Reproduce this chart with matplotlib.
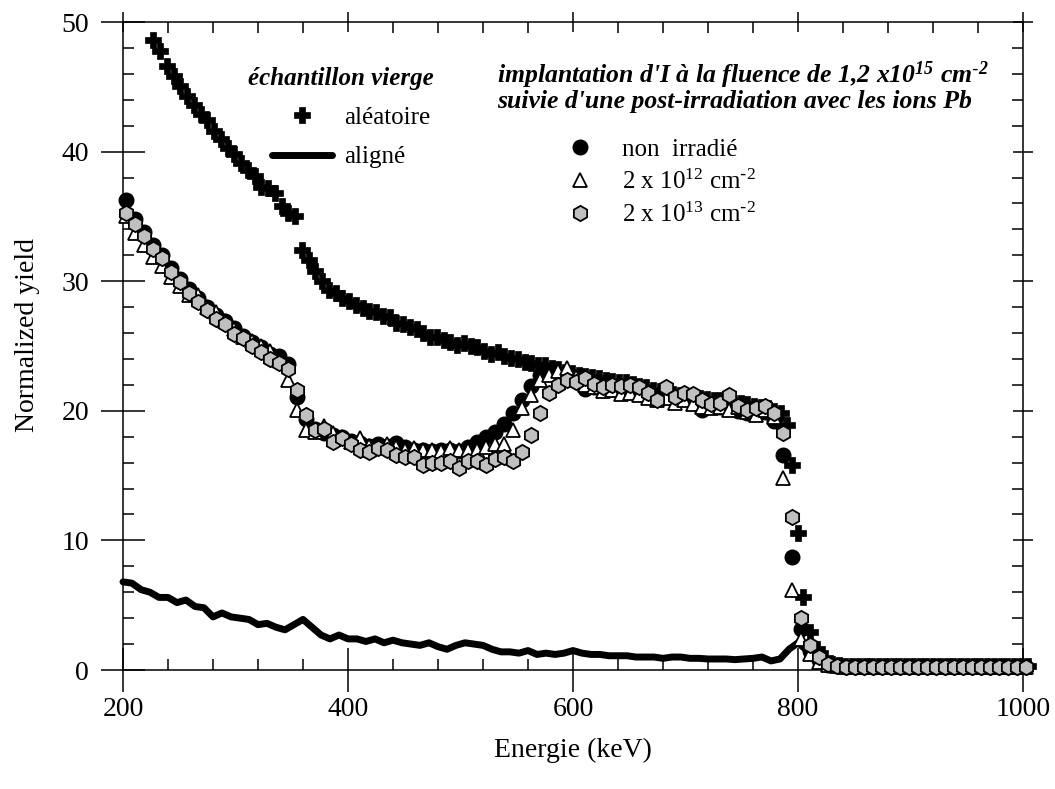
import numpy as np
import matplotlib
matplotlib.use("Agg")
import matplotlib.pyplot as plt
from matplotlib.ticker import MultipleLocator

plt.rcParams['font.family'] = ['Liberation Serif', 'DejaVu Serif']
plt.rcParams['mathtext.default'] = 'regular'

# ---------------- data ----------------
# aligned spectrum, virgin sample (every 8 keV from 200 keV)
aligne_start, aligne_step = 200, 8
aligne_y = [6.8, 6.7, 6.2, 6.0, 5.6, 5.6, 5.2, 5.4, 4.9, 4.8,
            4.1, 4.4, 4.1, 4.0, 3.9, 3.5, 3.6, 3.3, 3.1, 3.5,
            3.9, 3.3, 2.7, 2.4, 2.7, 2.4, 2.4, 2.2, 2.4, 2.1,
            2.3, 2.1, 2.0, 1.9, 2.1, 1.8, 1.6, 1.9, 2.1, 2.0,
            1.9, 1.6, 1.4, 1.4, 1.3, 1.5, 1.2, 1.3, 1.2, 1.3,
            1.5, 1.3, 1.2, 1.2, 1.1, 1.1, 1.1, 1.0, 1.0, 1.0,
            0.9, 1.0, 1.0, 0.9, 0.9, 0.85, 0.85, 0.85, 0.8, 0.85,
            0.9, 1.0, 0.7, 0.85, 1.6, 2.1, 1.5, 0.8, 0.5, 0.3,
            0.2, 0.2, 0.15, 0.2, 0.15, 0.15, 0.2, 0.15, 0.15, 0.15,
            0.2, 0.15, 0.15, 0.15, 0.2, 0.15, 0.15, 0.15, 0.15, 0.15, 0.15]

# random spectrum, virgin sample
aleatoire_E = list(range(227, 790, 6)) + [790, 795, 800, 804, 811, 817, 824] + list(range(830, 1008, 6))
aleatoire_y = [48.6, 47.8, 46.6, 45.8, 45.1, 44.3, 43.6, 42.9, 42.4, 41.6,
               41.0, 40.3, 39.8, 39.1, 38.6, 38.1, 37.3, 37.2, 36.8, 35.8,
               35.3, 35.0, 32.4, 31.6, 30.8, 30.0, 29.3, 29.1, 28.7, 28.5,
               28.2, 27.9, 27.7, 27.6, 27.3, 27.2, 26.8, 26.7, 26.5, 26.3,
               26.0, 25.7, 25.7, 25.5, 25.3, 25.1, 25.2, 25.0, 24.9, 24.6,
               24.4, 24.5, 24.2, 24.1, 24.0, 23.8, 23.7, 23.5, 23.5, 23.3,
               23.2, 23.0, 22.9, 22.8, 22.7, 22.6, 22.5, 22.4, 22.3, 22.2,
               22.2, 22.1, 21.9, 21.8, 21.6, 21.5, 21.4, 21.3, 21.2, 21.1,
               21.0, 21.0, 20.9, 20.8, 20.8, 20.7, 20.6, 20.6, 20.5, 20.4,
               20.3, 20.2, 20.0, 19.8,
               18.9, 15.8, 10.6, 5.6, 2.9, 1.6, 0.9,
               0.5, 0.4, 0.3, 0.3, 0.3, 0.3, 0.3, 0.3, 0.3, 0.3,
               0.3, 0.3, 0.3, 0.3, 0.3, 0.3, 0.3, 0.3, 0.3, 0.3,
               0.3, 0.3, 0.3, 0.3, 0.3, 0.3, 0.3, 0.3, 0.3, 0.3]

# implanted samples (every 8 keV from 203 keV)
impl_start, impl_step = 203, 8
non_irradie = [36.3, 34.8, 33.8, 32.8, 32.0, 31.0, 30.2, 29.4, 28.7, 28.0,
               27.4, 26.9, 26.4, 25.8, 25.3, 24.9, 24.4, 24.2, 23.6, 21.1,
               19.4, 18.6, 18.3, 18.1, 18.0, 17.7, 17.5, 17.3, 17.4, 17.3,
               17.5, 17.2, 17.0, 17.0, 16.9, 17.0, 17.0, 16.9, 17.2, 17.6,
               18.0, 18.4, 19.0, 19.8, 20.8, 21.9, 22.8, 23.0, 22.8, 22.5,
               22.3, 21.7, 21.8, 21.6, 21.7, 21.5, 21.6, 21.4, 21.3, 21.0,
               21.2, 20.9, 21.0, 20.8, 20.1, 20.4, 20.3, 20.5, 20.0, 19.8,
               20.0, 19.9, 19.2, 16.6, 8.7, 3.2, 1.5, 0.8, 0.4, 0.3,
               0.2, 0.2, 0.2, 0.2, 0.2, 0.2, 0.2, 0.2, 0.2, 0.2,
               0.2, 0.2, 0.2, 0.2, 0.2, 0.2, 0.2, 0.2, 0.2, 0.2, 0.2]
irr_2e12 = [35.0, 33.7, 32.8, 31.9, 31.2, 30.3, 29.6, 28.9, 28.9, 28.0,
            27.6, 26.9, 26.3, 25.7, 25.4, 25.0, 24.6, 23.9, 22.4, 20.1,
            18.5, 18.4, 18.8, 18.3, 18.0, 17.6, 17.9, 17.3, 17.2, 17.4,
            17.2, 17.0, 17.1, 17.0, 17.0, 16.9, 17.1, 17.0, 17.0, 17.0,
            17.2, 17.4, 17.4, 18.5, 20.2, 21.2, 22.4, 22.8, 23.1, 23.3,
            22.6, 22.0, 21.8, 21.5, 21.6, 21.3, 21.4, 21.2, 21.0, 20.8,
            21.0, 20.6, 20.8, 20.5, 20.3, 20.2, 20.3, 20.1, 20.3, 19.9,
            19.7, 20.1, 19.5, 14.8, 6.2, 2.4, 1.2, 0.6, 0.4, 0.3,
            0.2, 0.2, 0.2, 0.2, 0.2, 0.2, 0.2, 0.2, 0.2, 0.2,
            0.2, 0.2, 0.2, 0.2, 0.2, 0.2, 0.2, 0.2, 0.2, 0.2, 0.2]
irr_2e13 = [35.3, 34.4, 33.5, 32.5, 31.8, 30.7, 29.9, 29.1, 28.4, 27.8,
            27.1, 26.7, 25.9, 25.6, 25.0, 24.5, 24.0, 23.7, 23.2, 21.6,
            19.7, 18.5, 18.6, 17.6, 17.9, 17.4, 17.0, 16.8, 17.1, 17.0,
            16.6, 16.4, 16.4, 15.8, 16.0, 16.0, 16.1, 15.6, 16.1, 16.1,
            15.8, 16.3, 16.4, 16.1, 16.8, 18.1, 19.8, 21.4, 22.0, 22.4,
            22.2, 22.5, 22.1, 21.8, 22.0, 21.9, 22.0, 21.8, 21.4, 20.8,
            21.8, 21.1, 21.4, 21.3, 20.8, 20.5, 20.6, 21.2, 20.4, 20.1,
            20.2, 20.4, 19.8, 18.3, 11.8, 4.0, 1.9, 1.0, 0.5, 0.3,
            0.2, 0.2, 0.2, 0.2, 0.2, 0.2, 0.2, 0.2, 0.2, 0.2,
            0.2, 0.2, 0.2, 0.2, 0.2, 0.2, 0.2, 0.2, 0.2, 0.2, 0.2]

x_ticks = [200, 400, 600, 800, 1000]
y_ticks = [0, 10, 20, 30, 40, 50]

# ---------------- figure ----------------
W, H = 1055, 789
fig = plt.figure(figsize=(W / 100, H / 100), dpi=100)
ax = fig.add_axes([123 / W, 1 - 670 / H, 900 / W, 648 / H])

aligne_E = aligne_start + aligne_step * np.arange(len(aligne_y))
impl_E1 = impl_start + impl_step * np.arange(len(non_irradie))
impl_E2 = impl_start + impl_step * np.arange(len(irr_2e12))
impl_E3 = impl_start + impl_step * np.arange(len(irr_2e13))

h_al, = ax.plot(aligne_E, aligne_y, color='black', lw=5, solid_capstyle='round',
                solid_joinstyle='round', zorder=2, clip_on=False)
h_ra, = ax.plot(aleatoire_E[:len(aleatoire_y)], aleatoire_y, ls='none', marker='P', ms=12,
                mfc='black', mec='black', mew=0.5, zorder=3, clip_on=False)
h_c, = ax.plot(impl_E1, non_irradie, ls='none', marker='o', ms=10.5,
               mfc='black', mec='black', mew=1, zorder=4, clip_on=False)
h_t, = ax.plot(impl_E2, irr_2e12, ls='none', marker='^', ms=10.5,
               mfc='white', mec='black', mew=1.3, zorder=5, clip_on=False)
h_h, = ax.plot(impl_E3, irr_2e13, ls='none', marker='h', ms=11,
               mfc='#c0c0c0', mec='black', mew=1.3, zorder=6, clip_on=False)

ax.set_xlim(200, 1000)
ax.set_ylim(0, 50)
ax.set_xticks(x_ticks)
ax.set_yticks(y_ticks)
ax.xaxis.set_minor_locator(MultipleLocator(40))
ax.yaxis.set_minor_locator(MultipleLocator(2))
ax.tick_params(which='major', direction='inout', length=31, width=1.1,
               labelsize=20, top=True, right=True)
ax.tick_params(axis='y', which='major', pad=9)
ax.tick_params(axis='x', which='major', pad=4)
ax.tick_params(which='minor', direction='in', length=8, width=1.1,
               top=True, right=True)
for t in ax.xaxis.get_major_ticks():
    t.tick2line.set_markersize(15)
for t in ax.yaxis.get_major_ticks():
    t.tick2line.set_markersize(15)
for s in ax.spines.values():
    s.set_linewidth(1.1)

ax.set_xlabel('Energie (keV)', fontsize=20)
ax.set_ylabel('Normalized yield', fontsize=20)
ax.xaxis.set_label_coords(0.5, -0.105)
ax.yaxis.set_label_coords(-0.092, 0.517)

# ---------------- legends ----------------
bi = dict(fontweight='bold', fontstyle='italic')
fig.text(341 / W, 1 - 85 / H, 'échantillon vierge', ha='center', va='baseline',
         fontsize=18, **bi)
leg1 = fig.legend([h_ra, h_al], ['aléatoire', 'aligné'], loc='upper left',
                  bbox_to_anchor=(272 / W, 1 - 106 / H), frameon=False,
                  fontsize=18, handlelength=2.4, handletextpad=0.5,
                  labelspacing=0.69, borderpad=0, borderaxespad=0, numpoints=1)

fig.text(497 / W, 1 - 83 / H,
         r"implantation d'I à la fluence de 1,2 x10$^{15}$ cm$^{\text{-}2}$",
         ha='left', va='baseline', fontsize=18.5, **bi)
fig.text(497 / W, 1 - 108 / H,
         "suivie d'une post-irradiation avec les ions Pb",
         ha='left', va='baseline', fontsize=18.5, **bi)
leg2 = fig.legend([h_c, h_t, h_h],
                  ['non  irradié', r'2 x 10$^{12}$ cm$^{\text{-}2}$',
                   r'2 x 10$^{13}$ cm$^{\text{-}2}$'],
                  loc='upper left', bbox_to_anchor=(567 / W, 1 - 138 / H),
                  frameon=False, fontsize=18, handlelength=1.0, handletextpad=1.2,
                  labelspacing=0.36, borderpad=0, borderaxespad=0, numpoints=1)

fig.savefig('out.png', dpi=100)
